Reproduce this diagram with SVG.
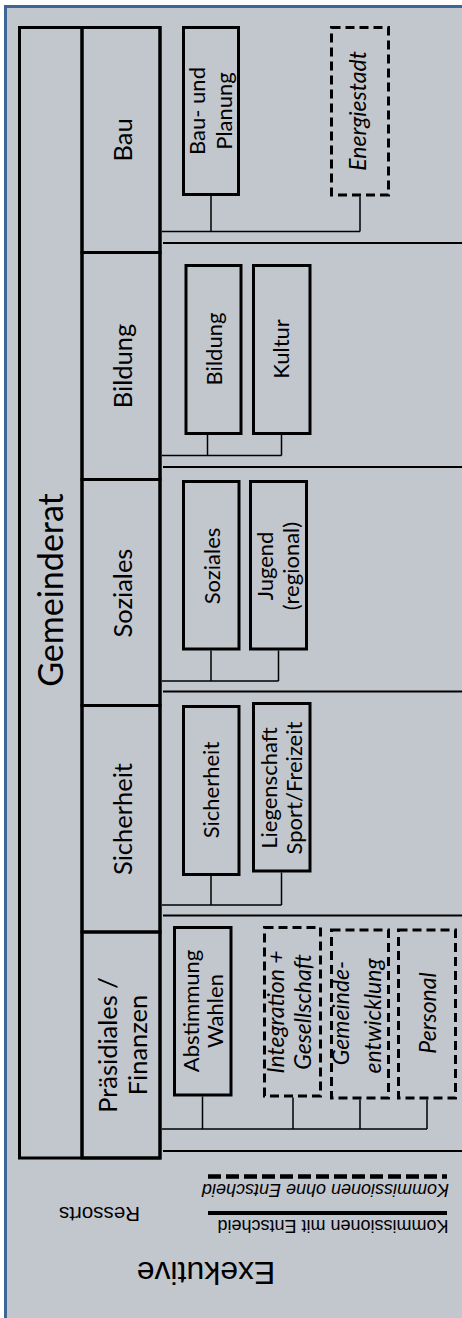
<svg xmlns="http://www.w3.org/2000/svg" width="462" height="1318" viewBox="0 0 462 1318">
<style>
.box{fill:none;stroke:#000;stroke-width:3}
.dash{fill:none;stroke:#000;stroke-width:3;stroke-dasharray:9 5}
.con{fill:none;stroke:#000;stroke-width:1.5}
.sep{fill:none;stroke:#000;stroke-width:2.2}
.t{font-family:Lato,"Open Sans",sans-serif;fill:#000;text-anchor:middle}
.big{font-size:34px}
.res{font-size:25.5px}
.k{font-size:22px}
.i{font-style:italic;font-size:23px}
.leg{font-family:"Liberation Sans",Arial,sans-serif;fill:#000;text-anchor:middle}
.li{font-style:italic}
</style>
<rect x="0" y="0" width="462" height="1318" fill="#fff"/>
<rect x="5.5" y="6.5" width="500" height="1400" fill="#C2C6CD" stroke="#3E6597" stroke-width="3"/>

<g id="gemeinderat">
<rect class="box" x="19.5" y="27.5" width="140.5" height="1130.5"/>
<line class="box" x1="82" y1="27.5" x2="82" y2="1158"/>
<text class="t big" transform="translate(63,590) rotate(-90)">Gemeinderat</text>
</g>

<g id="ressort-bau">
<rect class="box" x="82" y="27.5" width="78" height="225"/>
<text class="t res" transform="translate(132,140) rotate(-90)">Bau</text>
</g>
<g id="ressort-bildung">
<rect class="box" x="82" y="252.5" width="78" height="227"/>
<text class="t res" transform="translate(132,366) rotate(-90)">Bildung</text>
</g>
<g id="ressort-soziales">
<rect class="box" x="82" y="479.5" width="78" height="226"/>
<text class="t res" transform="translate(132,593) rotate(-90)">Soziales</text>
</g>
<g id="ressort-sicherheit">
<rect class="box" x="82" y="705.5" width="78" height="226.5"/>
<text class="t res" transform="translate(132,819) rotate(-90)">Sicherheit</text>
</g>
<g id="ressort-praesidiales">
<rect class="box" x="82" y="932" width="78" height="226"/>
<text class="t res" transform="translate(117,1045) rotate(-90)">Präsidiales /</text>
<text class="t res" transform="translate(147,1045) rotate(-90)">Finanzen</text>
</g>

<g id="k-bau-planung">
<rect class="box" x="183.5" y="27.5" width="55" height="167"/>
<text class="t k" transform="translate(205,111) rotate(-90)">Bau- und</text>
<text class="t k" transform="translate(232,111) rotate(-90)">Planung</text>
</g>
<g id="k-energiestadt">
<rect class="dash" x="331.5" y="27.5" width="57" height="167.5"/>
<text class="t k i" transform="translate(366,111) rotate(-90)">Energiestadt</text>
</g>
<g id="k-bildung">
<rect class="box" x="186" y="265.5" width="55" height="168"/>
<text class="t k" transform="translate(222,349) rotate(-90)">Bildung</text>
</g>
<g id="k-kultur">
<rect class="box" x="253.5" y="265.5" width="56.5" height="168"/>
<text class="t k" transform="translate(289,349) rotate(-90)">Kultur</text>
</g>
<g id="k-soziales">
<rect class="box" x="183.5" y="481.5" width="55.5" height="167.5"/>
<text class="t k" transform="translate(219.5,566) rotate(-90)">Soziales</text>
</g>
<g id="k-jugend">
<rect class="box" x="250.5" y="481.5" width="56" height="167.5"/>
<text class="t k" transform="translate(273,566) rotate(-90)">Jugend</text>
<text class="t k" transform="translate(299,566) rotate(-90)">(regional)</text>
</g>
<g id="k-sicherheit">
<rect class="box" x="183.5" y="706.5" width="55.5" height="168"/>
<text class="t k" transform="translate(219,790) rotate(-90)">Sicherheit</text>
</g>
<g id="k-liegenschaft">
<rect class="box" x="253.5" y="703.5" width="56.5" height="167.5"/>
<text class="t k" transform="translate(277,788) rotate(-90)">Liegenschaft</text>
<text class="t k" transform="translate(302,788) rotate(-90)">Sport/Freizeit</text>
</g>
<g id="k-abstimmung">
<rect class="box" x="174.5" y="927.5" width="56.5" height="167.5"/>
<text class="t k" transform="translate(199,1011) rotate(-90)">Abstimmung</text>
<text class="t k" transform="translate(223,1011) rotate(-90)">Wahlen</text>
</g>
<g id="k-integration">
<rect class="dash" x="264.5" y="927.5" width="56" height="168.5"/>
<text class="t k i" transform="translate(284,1012) rotate(-90)">Integration +</text>
<text class="t k i" transform="translate(311,1012) rotate(-90)">Gesellschaft</text>
</g>
<g id="k-gemeindeentwicklung">
<rect class="dash" x="331.5" y="930" width="57" height="168"/>
<text class="t k i" transform="translate(349,1013) rotate(-90)">Gemeinde-</text>
<text class="t k i" transform="translate(381,1016) rotate(-90)">entwicklung</text>
</g>
<g id="k-personal">
<rect class="dash" x="398.5" y="930" width="57" height="168"/>
<text class="t k i" transform="translate(436,1013) rotate(-90)">Personal</text>
</g>

<g id="connectors">
<path class="con" d="M162,231.5H360M211,196V231.5M360,196.5V231.5"/>
<line class="sep" x1="163" y1="243" x2="462" y2="243"/>
<path class="con" d="M162,455.5H281.5M207.5,435V455.5M281.5,435V455.5"/>
<line class="sep" x1="163" y1="467" x2="462" y2="467"/>
<path class="con" d="M162,681H278.5M211,650.5V681M278.5,650.5V681"/>
<line class="sep" x1="163" y1="691.5" x2="462" y2="691.5"/>
<path class="con" d="M162,905H281.5M211,876V905M281.5,872.5V905"/>
<line class="sep" x1="163" y1="915.5" x2="462" y2="915.5"/>
<path class="con" d="M162,1129H427M202.5,1096.5V1129M293,1097.5V1129M360,1099.5V1129M427,1099.5V1129"/>
<line class="sep" x1="163" y1="1151" x2="462" y2="1151"/>
</g>

<g id="legend">
<line x1="208" y1="1176.5" x2="447" y2="1176.5" stroke="#000" stroke-width="4.5" stroke-dasharray="13 5"/>
<text class="leg li" font-size="18" transform="translate(325.5,1183.5) rotate(180)">Kommissionen ohne Entscheid</text>
<line x1="208" y1="1213" x2="447" y2="1213" stroke="#000" stroke-width="4"/>
<text class="leg" font-size="18" transform="translate(333,1220) rotate(180)">Kommissionen mit Entscheid</text>
<text class="leg" font-size="20.5" transform="translate(99.5,1207) rotate(180)">Ressorts</text>
<text class="leg" font-size="32" transform="translate(206,1262) rotate(180)">Exekutive</text>
</g>
</svg>
